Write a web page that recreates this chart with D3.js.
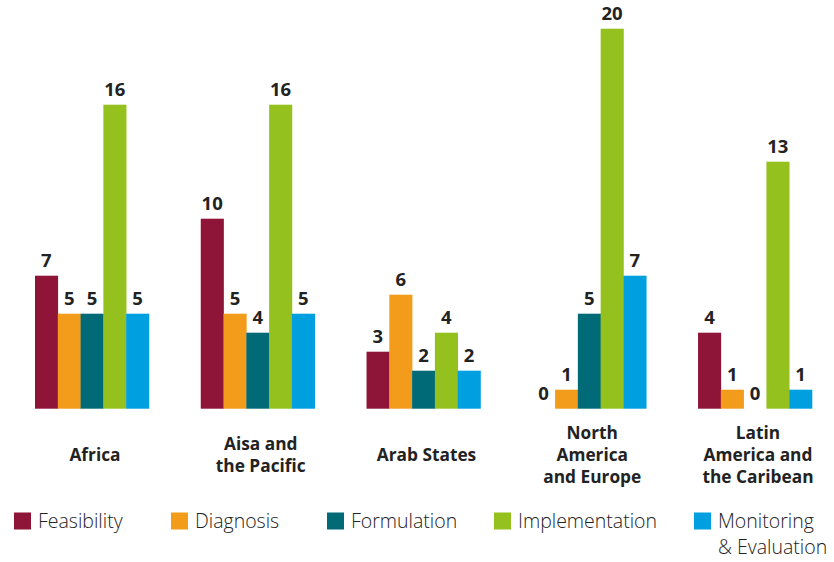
<!DOCTYPE html>
<html><head><meta charset="utf-8">
<script src="https://cdn.jsdelivr.net/npm/d3@7"></script>
<style>body{margin:0;background:#fff}svg{display:block}</style>
</head><body>
<svg id="c" width="834" height="562"></svg>
<script>
const regions = [["Africa"],["Aisa and","the Pacific"],["Arab States"],["North","America","and Europe"],["Latin","America and","the Caribean"]];
const regionKeys = ["Africa","Asia","Arab","NAE","LAC"];
const series = ["Feasibility","Diagnosis","Formulation","Implementation","Monitoring & Evaluation"];
const legendLabels = [["Feasibility"],["Diagnosis"],["Formulation"],["Implementation"],["Monitoring","& Evaluation"]];
const colors = ["#8E1537","#F39B1A","#006A77","#95C11F","#009FE0"];
const feasibility    = [7,10,3,0,4];
const diagnosis      = [5,5,6,1,1];
const formulation    = [5,4,2,5,0];
const implementation = [16,16,4,20,13];
const monitoring     = [5,5,2,7,1];
const values = [feasibility,diagnosis,formulation,implementation,monitoring];

const svg = d3.select("#c");
const x0 = d3.scaleBand().domain(regionKeys).range([35,812]).paddingInner(0.3125).paddingOuter(0);
const x1 = d3.scaleBand().domain(series).range([0,x0.bandwidth()]).padding(0);
const y = d3.scaleLinear().domain([0,20]).range([408.7,28.7]);

regionKeys.forEach((r,i)=>{
  const g = svg.append("g").attr("transform",`translate(${x0(r)},0)`);
  series.forEach((s,j)=>{
    const v = values[j][i];
    g.append("rect").attr("x",x1(s)).attr("width",x1.bandwidth()+0.3)
      .attr("y",y(v)).attr("height",y(0)-y(v)).attr("fill",colors[j]);
    g.append("text").attr("x",x1(s)+x1.bandwidth()/2).attr("y",y(v)-8.5)
      .attr("text-anchor","middle").attr("font-family","Open Sans, sans-serif")
      .attr("font-weight","bold").attr("font-size",18.5).attr("fill","#222").text(v);
  });
  const lines = regions[i];
  const cx = x0(r)+x0.bandwidth()/2+3;
  const t = g.append("text").attr("text-anchor","middle").attr("font-family","Open Sans, sans-serif")
    .attr("font-weight","bold").attr("font-size",17.3).attr("fill","#222");
  lines.forEach((l,k)=>{
    t.append("tspan").attr("x",cx-x0(r)).attr("y",461+(k-(lines.length-1)/2)*22).text(l);
  });
});

const legX = [14,171,327,494,694];
series.forEach((s,j)=>{
  svg.append("rect").attr("x",legX[j]).attr("y",512.5).attr("width",17).attr("height",17).attr("fill",colors[j]);
  const t = svg.append("text").attr("font-family","Open Sans, sans-serif").attr("font-weight",300)
    .attr("font-size",19.5).attr("fill","#222");
  legendLabels[j].forEach((l,k)=>{
    t.append("tspan").attr("x",legX[j]+24).attr("y",528+k*26).text(l);
  });
});
</script>
</body></html>
